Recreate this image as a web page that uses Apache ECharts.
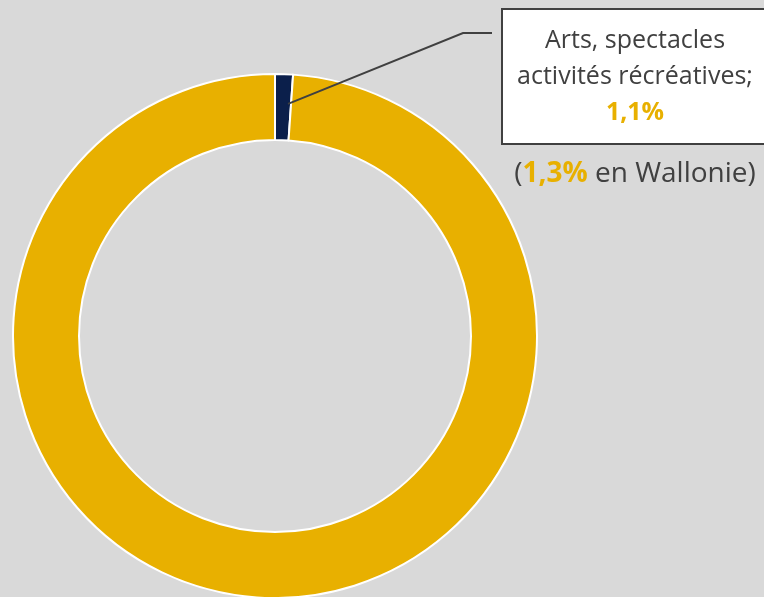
<!DOCTYPE html>
<html><head><meta charset="utf-8">
<script src="https://cdn.jsdelivr.net/npm/echarts@6/dist/echarts.min.js"></script>
<style>html,body{margin:0;padding:0;background:#d9d9d9;}#c{width:764px;height:597px;}</style>
</head><body><div id="c"></div>
<script>
const categories = ['Arts, spectacles activités récréatives', 'Autres'];
const values = [1.1, 98.9];
const walloniaValue = 1.3;
const labelLines = ['Arts, spectacles', 'activités récréatives;'];
const fmt = v => v.toFixed(1).replace('.', ',') + '%';

const GOLD = '#e8b000', NAVY = '#0b1f4b', TXT = '#404040';
const FS = 25;
const CX = 275, CY = 336, R0 = 196, R1 = 262;
const chart = echarts.init(document.getElementById('c'));

const baseSeries = {
  type: 'pie',
  center: [CX, CY],
  radius: [R0, R1],
  startAngle: 90,
  clockwise: true,
  avoidLabelOverlap: false
};

chart.setOption({
  backgroundColor: '#d9d9d9',
  animation: false,
  series: [Object.assign({}, baseSeries, {
    z: 2,
    itemStyle: { borderColor: '#ffffff', borderWidth: 2 },
    label: { show: false },
    labelLine: { show: false },
    data: categories.map((c, i) => ({
      name: c, value: values[i],
      itemStyle: { color: i === 0 ? NAVY : GOLD }
    }))
  }), Object.assign({}, baseSeries, {
    // overlay series carrying the callout so its leader line is drawn above the ring
    z: 5,
    silent: true,
    itemStyle: { color: 'rgba(0,0,0,0)', borderWidth: 0 },
    data: categories.map((c, i) => ({
      name: c, value: values[i],
      label: i === 0 ? {
        show: true,
        position: 'outside',
        formatter: labelLines.map(l => '{n|' + l + '}').join('\n') + '\n{v|' + fmt(values[0]) + '}',
        backgroundColor: '#ffffff',
        borderColor: TXT,
        borderWidth: 2,
        padding: [13, 2, 12, 2],
        width: 260,
        align: 'center',
        rich: {
          n: { fontFamily: 'Open Sans', fontSize: FS, color: TXT, lineHeight: 36, align: 'center' },
          v: { fontFamily: 'Open Sans', fontSize: FS, fontWeight: 'bold', color: GOLD, lineHeight: 36, align: 'center' }
        }
      } : { show: false },
      labelLine: i === 0 ? { show: true, lineStyle: { color: TXT, width: 2 } } : { show: false }
    })),
    labelLayout: function (p) {
      if (p.dataIndex !== 0) return {};
      const mid = (90 - values[0] / (values[0] + values[1]) * 180) * Math.PI / 180;
      const rA = R0 + (R1 - R0) * 0.55;
      const sx = CX + rA * Math.cos(mid) + 5, sy = CY - rA * Math.sin(mid);
      return {
        x: 635, y: 76.5, align: 'center', verticalAlign: 'middle',
        labelLinePoints: [[sx, sy], [463, 33], [492, 33]]
      };
    }
  })],
  graphic: [{
    type: 'text',
    x: 635, y: 174,
    z: 10,
    style: {
      text: '(' + '{v|' + fmt(walloniaValue) + '}' + ' en Wallonie)',
      fontFamily: 'Open Sans', fontSize: 28, fill: TXT,
      align: 'center', verticalAlign: 'middle',
      rich: { v: { fontFamily: 'Open Sans', fontSize: 28, fontWeight: 'bold', fill: GOLD } }
    }
  }]
});
</script></body></html>
